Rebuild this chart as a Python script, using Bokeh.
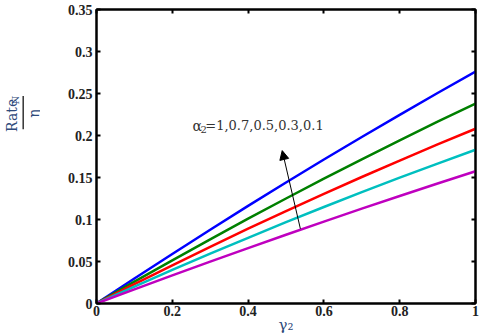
from bokeh.plotting import figure
from bokeh.layouts import row
from bokeh.models import (Range1d, FixedTicker, LinearAxis, Label, Arrow, NormalHead,
                          CustomJSTickFormatter)
from bokeh.embed import file_html
from bokeh.resources import INLINE
from math import pi

# data
gamma2 = [0.0, 0.1, 0.2, 0.3, 0.4, 0.5, 0.6, 0.7, 0.8, 0.9, 1.0]
rate_a1 = [0.0, 0.0298, 0.0590, 0.0878, 0.1162, 0.1440, 0.1714, 0.1982, 0.2246, 0.2506, 0.2760]
rate_a07 = [0.0, 0.0260, 0.0514, 0.0764, 0.1010, 0.1250, 0.1486, 0.1716, 0.1942, 0.2164, 0.2380]
rate_a05 = [0.0, 0.0230, 0.0454, 0.0674, 0.0890, 0.1100, 0.1306, 0.1506, 0.1702, 0.1894, 0.2080]
rate_a03 = [0.0, 0.0202, 0.0400, 0.0593, 0.0782, 0.0968, 0.1149, 0.1325, 0.1498, 0.1666, 0.1830]
rate_a01 = [0.0, 0.0169, 0.0335, 0.0499, 0.0660, 0.0819, 0.0975, 0.1129, 0.1280, 0.1429, 0.1575]
series = [rate_a1, rate_a07, rate_a05, rate_a03, rate_a01]
colors = ["#0000FF", "#008000", "#FF0000", "#00BFBF", "#BF00BF"]

x_ticks = [0, 0.2, 0.4, 0.6, 0.8, 1.0]
x_tick_labels = ["0", "0.2", "0.4", "0.6", "0.8", "1"]
y_ticks = [0, 0.05, 0.1, 0.15, 0.2, 0.25, 0.3, 0.35]
y_tick_labels = ["0", "0.05", "0.1", "0.15", "0.2", "0.25", "0.3", "0.35"]

alpha_text = "=1,0.7,0.5,0.3,0.1"
x_label = "γ₂"

lab_color = "#2e4a7a"
serif = "DejaVu Serif"

# ---- y-label panel (pixel coordinates, y measured from bottom) ----
ylab = figure(output_backend="svg", toolbar_location=None, width=40, height=335,
              min_border=0, x_range=Range1d(0, 40), y_range=Range1d(0, 335))
ylab.axis.visible = False
ylab.grid.visible = False
ylab.outline_line_color = None
ylab.add_layout(Label(x=11, y=214, text="Rate", angle=pi / 2, text_align="center",
                      text_baseline="middle", text_font=serif, text_font_size="14px",
                      text_color=lab_color))
ylab.add_layout(Label(x=15, y=231.5, text="N", angle=pi / 2, text_align="center",
                      text_baseline="middle", text_font=serif, text_font_size="10px",
                      text_color=lab_color))
ylab.segment(x0=[22.7], y0=[198], x1=[22.7], y1=[236], line_color="#333333", line_width=1.5)
ylab.add_layout(Label(x=33, y=216, text="η", angle=pi / 2, text_align="center",
                      text_baseline="middle", text_font=serif, text_font_size="14px",
                      text_color=lab_color))

# ---- main plot ----
p = figure(output_backend="svg", toolbar_location=None,
           frame_width=379, frame_height=294,
           min_border_left=56, min_border_right=5, min_border_top=9, min_border_bottom=32,
           x_range=Range1d(0, 1), y_range=Range1d(0, 0.35))
p.grid.visible = False
p.outline_line_color = "black"
p.outline_line_width = 2

for ys, c in zip(series, colors):
    p.line(gamma2, ys, line_color=c, line_width=2.5)

p.xaxis.ticker = FixedTicker(ticks=x_ticks)
p.yaxis.ticker = FixedTicker(ticks=y_ticks)
p.xaxis.major_label_overrides = {t: l for t, l in zip(x_ticks, x_tick_labels)}
p.yaxis.major_label_overrides = {t: l for t, l in zip(y_ticks, y_tick_labels)}
for ax in [p.xaxis[0], p.yaxis[0]]:
    ax.axis_line_width = 2
    ax.major_tick_in = 4
    ax.major_tick_out = 0
    ax.major_tick_line_width = 2
    ax.minor_tick_line_color = None
    ax.major_label_text_font = "Liberation Serif"
    ax.major_label_text_font_style = "bold"
    ax.major_label_text_font_size = "14px"
    ax.major_label_text_color = "#222222"
p.xaxis.major_label_standoff = 2
p.yaxis.major_label_standoff = 4
p.xaxis.axis_label = x_label
p.xaxis.axis_label_text_font = serif
p.xaxis.axis_label_text_font_style = "normal"
p.xaxis.axis_label_text_font_size = "15px"
p.xaxis.axis_label_text_color = lab_color
p.xaxis.axis_label_standoff = -3

blank = CustomJSTickFormatter(code="return ''")
right = LinearAxis(ticker=FixedTicker(ticks=y_ticks), axis_line_width=2,
                   major_tick_in=4, major_tick_out=0, major_tick_line_width=2,
                   minor_tick_line_color=None, formatter=blank)
top = LinearAxis(ticker=FixedTicker(ticks=x_ticks), axis_line_width=2,
                 major_tick_in=4, major_tick_out=0, major_tick_line_width=2,
                 minor_tick_line_color=None, formatter=blank)
p.add_layout(right, "right")
p.add_layout(top, "above")

# annotation
p.add_layout(Label(x=0.253, y=0.2119, text="α", text_align="left",
                   text_baseline="middle", text_font=serif, text_font_size="14px",
                   text_color="#333333"))
p.add_layout(Label(x=0.2744, y=0.2075, text="2", text_align="left",
                   text_baseline="middle", text_font=serif, text_font_size="10px",
                   text_color="#333333"))
p.add_layout(Label(x=0.287, y=0.2119, text=alpha_text, text_align="left",
                   text_baseline="middle", text_font=serif, text_font_size="13px",
                   text_color="#333333"))
p.add_layout(Arrow(x_start=0.538, y_start=0.0889, x_end=0.490, y_end=0.182,
                   end=NormalHead(size=9, fill_color="black", line_color="black"),
                   line_color="black", line_width=1))

layout = row(ylab, p, spacing=0)
open("out.html", "w").write(file_html(layout, INLINE))
